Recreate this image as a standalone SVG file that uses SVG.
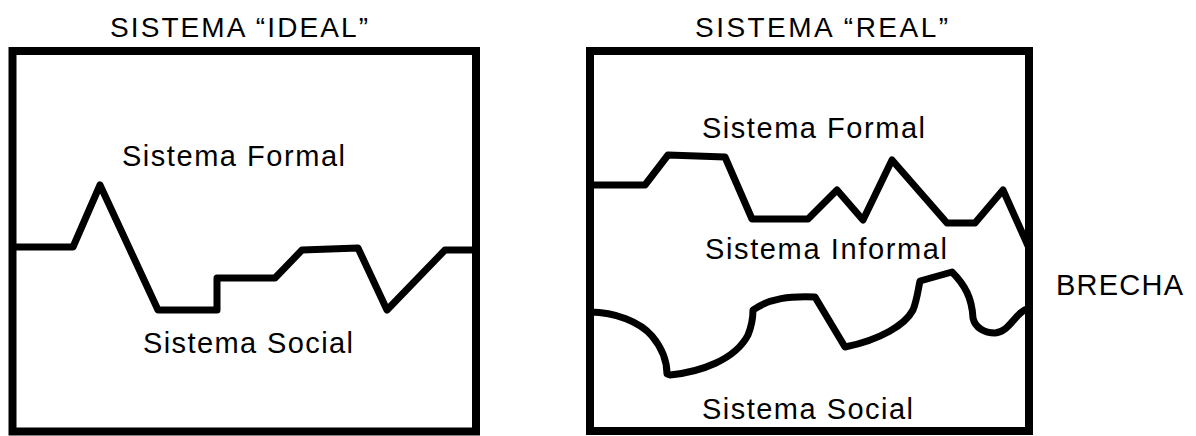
<svg xmlns="http://www.w3.org/2000/svg" width="1196" height="436" viewBox="0 0 1196 436">
<style>
.t{font-family:"Liberation Sans",Arial,sans-serif;fill:#000;}
.box{fill:none;stroke:#000;stroke-width:8;}
.ln{fill:none;stroke:#000;stroke-width:7;stroke-linejoin:round;stroke-linecap:butt;}
</style>
<rect width="1196" height="436" fill="#fff"/>
<g id="ideal">
<text class="t" x="110" y="37" font-size="28" textLength="258" lengthAdjust="spacing">SISTEMA “IDEAL”</text>
<rect class="box" x="12.5" y="51" width="463.5" height="380.5"/>
<text class="t" x="122" y="166" font-size="29" textLength="223" lengthAdjust="spacing">Sistema Formal</text>
<text class="t" x="143" y="353" font-size="29" textLength="210" lengthAdjust="spacing">Sistema Social</text>
</g>
<g id="real">
<text class="t" x="695" y="37" font-size="28" textLength="253" lengthAdjust="spacing">SISTEMA “REAL”</text>
<rect class="box" x="590" y="51" width="439" height="380" stroke-width="7"/>
<text class="t" x="702" y="138" font-size="29" textLength="223" lengthAdjust="spacing">Sistema Formal</text>
<text class="t" x="705" y="259" font-size="29" textLength="242" lengthAdjust="spacing">Sistema Informal</text>
<text class="t" x="702" y="419" font-size="29" textLength="211" lengthAdjust="spacing">Sistema Social</text>
</g>
<g id="brecha">
<text class="t" x="1056" y="295" font-size="29" textLength="127" lengthAdjust="spacing">BRECHA</text>
</g>
<g id="lines">
<path class="ln" d="M12,247 L73,247 L100,185 L158,310 L217,310 L217,278 L275,278 L302,250 L358,248 L387,310 L445,250 L476,250"/>
<path class="ln" d="M590,185 L645,185 L668,155 L725,157 L752,219 L808,219 L837,190 L863,220 L892,160 L947,223 L975,223 L1003,190 L1029,248"/>
<path class="ln" d="M590,312 C615,312 640,322 652,336 C662,348 667,360 667,374 L670,375 C700,372 735,360 748,335 C752,325 753,318 753,310 C770,298 790,296 815,297 L845,347 C880,340 905,325 913,310 C917,300 918,290 920,281 L952,272 C965,285 972,298 973,318 C975,328 985,333 995,333 C1010,332 1015,312 1029,308"/>
</g>
</svg>
